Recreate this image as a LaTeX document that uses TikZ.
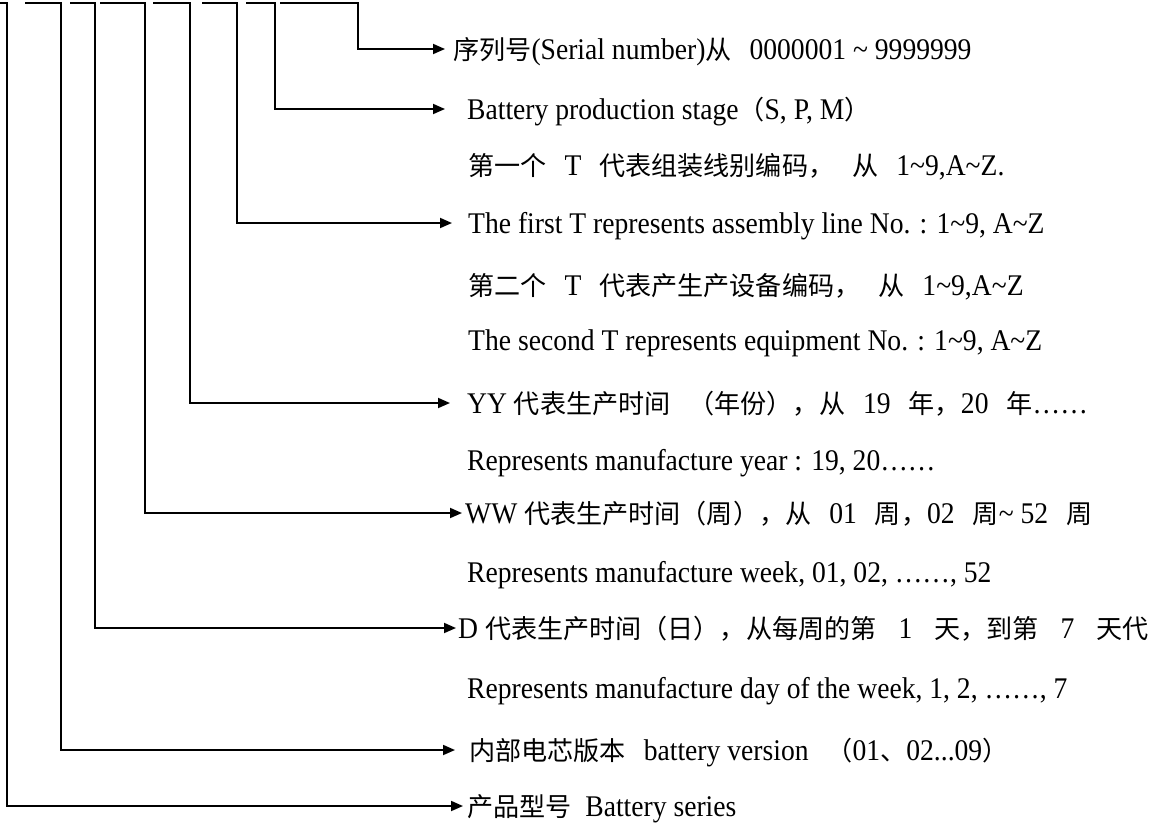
\documentclass[tikz,border=0pt]{standalone}
\usepackage{fontspec}
\setmainfont{Liberation Serif}[FakeStretch=0.92]
\newfontfamily\cjk{Noto Sans CJK SC}[Scale=0.87]
\usetikzlibrary{arrows.meta}
\newcommand{\tld}{\textasciitilde}
\newcommand{\gap}{\hspace{18pt}}
\begin{document}
\begin{tikzpicture}[
    x=1pt, y=-1pt,
    desc/.style={anchor=west, inner sep=0pt, text height=20pt, text depth=0pt,
        font=\fontsize{30}{34}\selectfont},
    link/.style={line width=1.8pt, -{Triangle[length=12pt,width=10pt]}}
]
\useasboundingbox (0,0) rectangle (1157,825);

% text lines
\node[desc] (serial) at (453,49) {{\cjk 序列号}(Serial number){\cjk 从}\gap 0000001 \tld\ 9999999};
\node[desc] (stage) at (467,109) {Battery production stage{\cjk （}S, P, M{\cjk ）}};
\node[desc] (lineCn) at (468,165) {{\cjk 第一个}\gap T\gap{\cjk 代表组装线别编码，}\gap{\cjk 从}\gap 1\tld9,A\tld Z.};
\node[desc] (lineEn) at (468,223) {The first T represents assembly line No. : 1\tld9, A\tld Z};
\node[desc] (equipCn) at (468,285) {{\cjk 第二个}\gap T\gap{\cjk 代表产生产设备编码，}\gap{\cjk 从}\gap 1\tld9,A\tld Z};
\node[desc] (equipEn) at (468,340) {The second T represents equipment No. : 1\tld9, A\tld Z};
\node[desc] (year) at (467,403) {YY {\cjk 代表生产时间}\gap{\cjk （年份），从}\gap 19\gap{\cjk 年，}20\gap{\cjk 年}……};
\node[desc] (yearEn) at (467,460) {Represents manufacture year : 19, 20……};
\node[desc] (week) at (465,513) {WW {\cjk 代表生产时间（周），从}\gap 01\gap{\cjk 周，}02\gap{\cjk 周}\tld\ 52\gap{\cjk 周}};
\node[desc] (weekEn) at (467,572) {Represents manufacture week, 01, 02, ……, 52};
\node[desc] (day) at (458,628) {D {\cjk 代表生产时间（日），从每周的第}\hspace{22pt}1\hspace{22pt}{\cjk 天，到第}\hspace{22pt}7\hspace{22pt}{\cjk 天代}};
\node[desc] (dayEn) at (467,688) {Represents manufacture day of the week, 1, 2, ……, 7};
\node[desc] (version) at (469,750) {{\cjk 内部电芯版本}\gap battery version\gap{\cjk （}01{\cjk 、}02...09{\cjk ）}};
\node[desc] (series) at (467,806) {{\cjk 产品型号}\ \ Battery series};

% bracket tops
\coordinate (s1) at (0,3);   \coordinate (c1) at (7,3);
\coordinate (s2) at (25,3);  \coordinate (c2) at (61,3);
\coordinate (s3) at (70,3);  \coordinate (c3) at (95,3);
\coordinate (s4) at (100,3); \coordinate (c4) at (145,3);
\coordinate (s5) at (153,3); \coordinate (c5) at (190,3);
\coordinate (s6) at (202,3); \coordinate (c6) at (237,3);
\coordinate (s7) at (246,3); \coordinate (c7) at (275,3);
\coordinate (s8) at (280,3); \coordinate (c8) at (358,3);

\draw[link] (s8) -- (c8) |- ([xshift=-8pt]serial.west);
\draw[link] (s7) -- (c7) |- ([xshift=-22pt]stage.west);
\draw[link] (s6) -- (c6) |- ([xshift=-16pt]lineEn.west);
\draw[link] (s5) -- (c5) |- ([xshift=-17pt]year.west);
\draw[link] (s4) -- (c4) |- ([xshift=-3pt]week.west);
\draw[link] (s3) -- (c3) |- ([xshift=-2pt]day.west);
\draw[link] (s2) -- (c2) |- ([xshift=-14pt]version.west);
\draw[link] (s1) -- (c1) |- ([xshift=-4pt]series.west);

\end{tikzpicture}
\end{document}
